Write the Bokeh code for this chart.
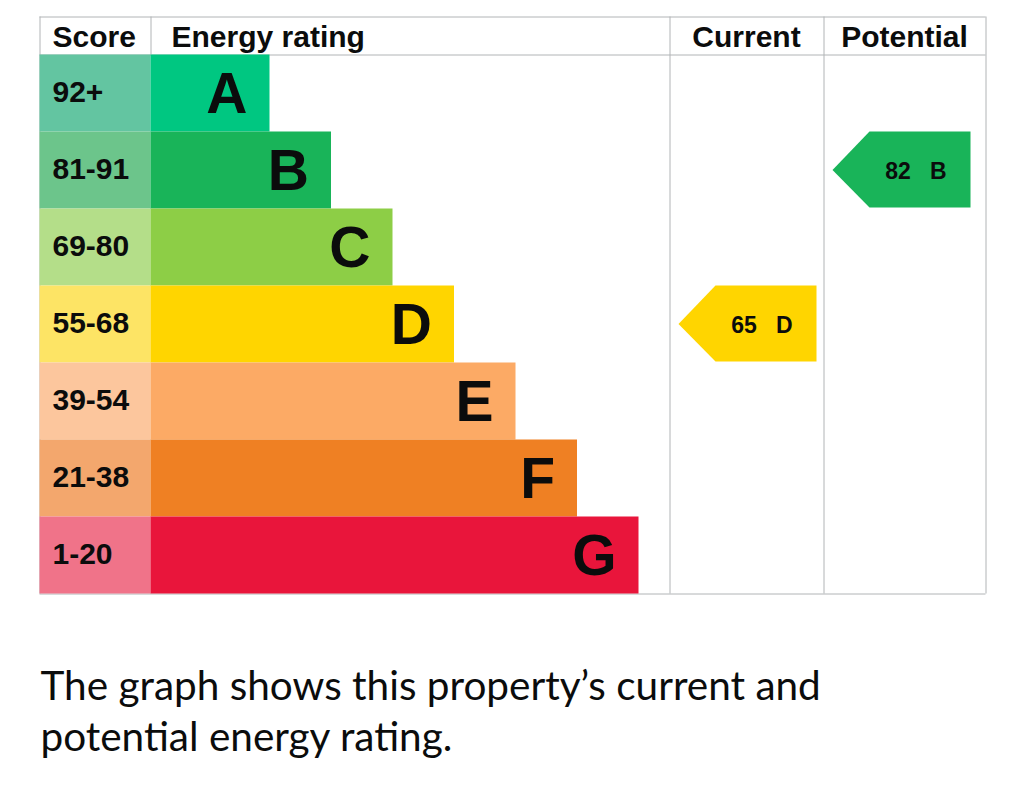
from bokeh.plotting import figure
from bokeh.models import Range1d, ColumnDataSource
from bokeh.core.properties import value
from bokeh.embed import file_html
from bokeh.resources import INLINE

# chart data
bands = ["A", "B", "C", "D", "E", "F", "G"]
score_labels = ["92+", "81-91", "69-80", "55-68", "39-54", "21-38", "1-20"]
band_min = [92, 81, 69, 55, 39, 21, 1]
bar_colors = ["#00c781", "#19b459", "#8dce46", "#ffd500", "#fcaa65", "#ef8023", "#e9153b"]
score_colors = ["#63c5a1", "#6cc58b", "#b4de89", "#fde465", "#fcc69d", "#f3a76d", "#f07389"]
headers = ["Score", "Energy rating", "Current", "Potential"]
current_score = 65
potential_score = 82
caption = ["The graph shows this property\u2019s current and", "potential energy rating."]

# layout (page pixels)
W, H = 1008, 778
left, score_right, cur_left, pot_left, right = 39, 150, 669, 823, 985
top, head_bottom, row_h = 16, 54, 77
bar_base, bar_step = 119, 61.5
line_col = "#b1b4b6"
bold = value("Liberation Sans")

p = figure(width=W, height=H, x_range=Range1d(0, W), y_range=Range1d(H, 0),
           output_backend="svg", toolbar_location=None, min_border=0)
p.axis.visible = False
p.grid.visible = False
p.outline_line_color = None
p.background_fill_color = "white"

n = len(bands)
bottom = head_bottom + n * row_h

# table lines
hx0 = [left, left, left]
hx1 = [right, right, right]
hy = [top + 0.5, head_bottom + 0.5, bottom + 0.5]
p.segment(x0=hx0, y0=hy, x1=hx1, y1=hy, line_color=line_col, line_width=1)
vx = [left + 0.5, cur_left + 0.5, pot_left + 0.5, right + 0.5, score_right + 0.5]
vy1 = [bottom, bottom, bottom, bottom, head_bottom]
p.segment(x0=vx, y0=[top] * 5, x1=vx, y1=vy1, line_color=line_col, line_width=1)

# bands
row_top = [head_bottom + i * row_h for i in range(n)]
row_bot = [t + row_h for t in row_top]
row_mid = [t + row_h / 2 for t in row_top]
bar_right = [score_right + bar_base + i * bar_step for i in range(n)]

p.quad(left=[left] * n, right=[score_right] * n, top=row_top, bottom=row_bot,
       fill_color=score_colors, line_color=None)
p.quad(left=[score_right] * n, right=bar_right, top=row_top, bottom=row_bot,
       fill_color=bar_colors, line_color=None)

p.text(x=[left + 13] * n, y=[m - 1 for m in row_mid], text=score_labels, text_font=bold,
       text_font_style="bold", text_font_size="30px", text_align="left",
       text_baseline="middle", text_color="#0b0c0c")
p.text(x=[r - 22 for r in bar_right], y=row_mid, text=bands,
       text_font=bold, text_font_style="bold", text_font_size="57px",
       text_align="right", text_baseline="middle", text_color="#0b0c0c")

# headers
hdr_x = [left + 13, score_right + 21, (cur_left + pot_left) / 2, (pot_left + right) / 2]
hdr_align = ["left", "left", "center", "center"]
src = ColumnDataSource(dict(x=hdr_x, y=[36] * 4, t=headers, a=hdr_align))
p.text(x="x", y="y", text="t", text_align="a", source=src, text_font=bold,
       text_font_style="bold", text_font_size="30px", text_baseline="middle",
       text_color="#0b0c0c")


# rating arrows
def band_of(score):
    for i, m in enumerate(band_min):
        if score >= m:
            return i
    return n - 1


arrow_xs, arrow_ys, arrow_cols, lab_x, lab_y, lab_t = [], [], [], [], [], []
for col_left, sc in [(cur_left, current_score), (pot_left, potential_score)]:
    b = band_of(sc)
    t0, t1, mid = row_top[b], row_bot[b] - 1, row_mid[b]
    x0 = col_left + 9
    x1 = x0 + 37
    x2 = x0 + 138
    arrow_xs.append([x0, x1, x2, x2, x1])
    arrow_ys.append([mid, t0, t0, t1, t1])
    arrow_cols.append(bar_colors[b])
    lab_x.append(x2 - 24)
    lab_y.append(mid + 1)
    lab_t.append(f"{sc}\u00a0\u00a0\u00a0{bands[b]}")

p.patches(xs=arrow_xs, ys=arrow_ys, fill_color=arrow_cols, line_color=None)
p.text(x=lab_x, y=lab_y, text=lab_t, text_font=bold, text_font_style="bold",
       text_font_size="23px", text_align="right", text_baseline="middle",
       text_color="#0b0c0c")

# caption
p.text(x=[40, 40], y=[684, 735], text=caption, text_font=value("Lato"),
       text_font_size="40.5px", text_align="left", text_baseline="alphabetic",
       text_color="#0b0c0c")

open("out.html", "w").write(file_html(p, INLINE))
